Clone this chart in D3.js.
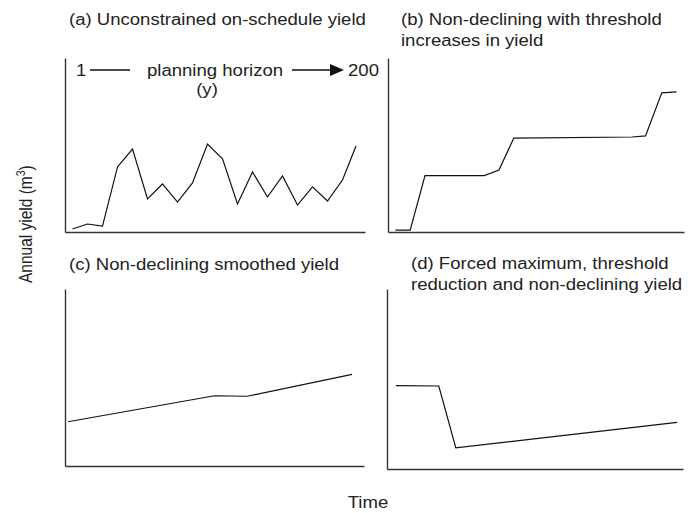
<!DOCTYPE html>
<html>
<head>
<meta charset="utf-8">
<script src="https://cdn.jsdelivr.net/npm/d3@7"></script>
<style>
  body { margin: 0; background: #fff; }
  text { font-family: "Liberation Sans", Arial, Helvetica, sans-serif; fill: #222; }
</style>
</head>
<body>
<svg id="chart" width="698" height="513"></svg>
<script>
// data (years along the 200-y horizon, relative yield 0-100)
var yearsA = [5, 15, 25, 35, 45, 55, 65, 75, 85, 95, 105, 115, 125, 135, 145, 155, 165, 175, 185, 194];
var valuesA = [1.7, 4.6, 3.4, 37.4, 47.7, 19, 27.6, 17.2, 28.2, 50.6, 42, 16.1, 34.5, 20.1, 32.2, 15.5, 25.9, 17.8, 29.9, 49.4];

var yearsB = [5, 15, 25, 65, 75, 85, 165, 174, 185, 195];
var valuesB = [1.1, 1.1, 32.4, 32.4, 35.6, 54, 54.6, 55.2, 80, 80.5];

var yearsC = [2, 100, 122, 192];
var valuesC = [25, 39.7, 39.4, 51.8];

var yearsD = [6, 35, 46.5, 196];
var valuesD = [46.3, 46.1, 11.7, 25.9];

var titles = [
  ["(a) Unconstrained on-schedule yield"],
  ["(b) Non-declining with threshold", "increases in yield"],
  ["(c) Non-declining smoothed yield"],
  ["(d) Forced maximum, threshold", "reduction and non-declining yield"]
];

var svg = d3.select("#chart");
var fs = 16, sx = 1.16; // the original lettering is a bit stretched sideways

function label(x, y, str, anchor) {
  return svg.append("g").attr("transform", "translate(" + x + "," + y + ") scale(" + sx + ",1)")
    .append("text").attr("font-size", fs).attr("text-anchor", anchor || "start").text(str);
}

// panel boxes
var panels = [
  {x0: 65, x1: 365, y0: 58, y1: 232, tx: 69, ty: 25, years: yearsA, vals: valuesA, title: titles[0]},
  {x0: 388, x1: 684, y0: 58, y1: 232, tx: 401, ty: 25, years: yearsB, vals: valuesB, title: titles[1]},
  {x0: 65, x1: 364, y0: 289, y1: 466, tx: 69, ty: 270, years: yearsC, vals: valuesC, title: titles[2]},
  {x0: 387, x1: 683, y0: 289, y1: 469, tx: 411, ty: 269, years: yearsD, vals: valuesD, title: titles[3]}
];

panels.forEach(function(p, k) {
  var x = d3.scaleLinear().domain([0, 200]).range([p.x0, p.x1]);
  var y = d3.scaleLinear().domain([0, 100]).range([p.y1, p.y0]);
  var g = svg.append("g");

  // axes without ticks
  g.append("g").attr("transform", "translate(0," + p.y1 + ")")
    .call(d3.axisBottom(x).tickValues([]).tickSizeOuter(0))
    .select(".domain").attr("stroke", "#333").attr("stroke-width", 1.4);
  g.append("g").attr("transform", "translate(" + p.x0 + ",0)")
    .call(d3.axisLeft(y).tickValues([]).tickSizeOuter(0))
    .select(".domain").attr("stroke", "#333").attr("stroke-width", 1.4);

  var line = d3.line()
    .x(function(d, i) { return x(p.years[i]); })
    .y(function(d) { return y(d); });
  g.append("path").datum(p.vals)
    .attr("d", line)
    .attr("fill", "none")
    .attr("stroke", "#111")
    .attr("stroke-width", 1.2)
    .attr("stroke-linejoin", "miter");

  p.title.forEach(function(t, i) {
    label(p.tx, p.ty + i * 21, t);
  });
});

// planning horizon annotation in (a)
label(76, 76, "1");
svg.append("line").attr("x1", 90).attr("x2", 130).attr("y1", 70).attr("y2", 70)
  .attr("stroke", "#111").attr("stroke-width", 1.3);
label(147, 76, "planning horizon");
label(207, 95, "(y)", "middle");
svg.append("line").attr("x1", 292).attr("x2", 332).attr("y1", 70).attr("y2", 70)
  .attr("stroke", "#111").attr("stroke-width", 1.3);
svg.append("path").attr("d", "M330,64 L344,70 L330,76 Z").attr("fill", "#111");
label(348, 76, "200");

// shared axis labels
var yl = svg.append("g").attr("transform", "translate(32,283) scale(" + sx + ",1) rotate(-90)")
  .append("text").attr("font-size", 15.5);
yl.append("tspan").text("Annual yield (m");
yl.append("tspan").attr("font-size", 10.5).attr("dy", -6).text("3");
yl.append("tspan").attr("dy", 6).text(")");

label(368, 508, "Time", "middle");
</script>
</body>
</html>
